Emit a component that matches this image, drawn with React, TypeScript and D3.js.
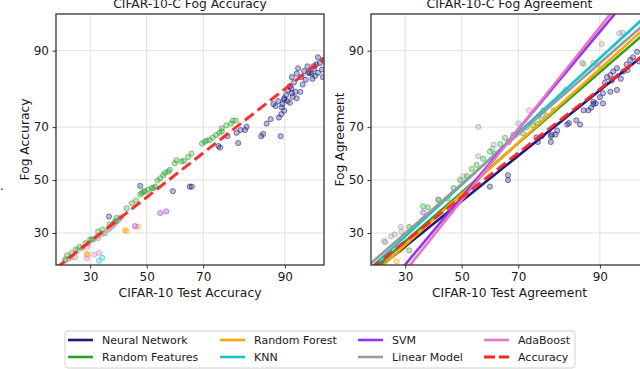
import React, { useEffect, useRef } from 'react';
import * as d3 from 'd3';

// tick values (percent) shared by both axes of both panels
const ticks = [30, 50, 70, 90];

// ---- left panel: CIFAR-10 test accuracy vs fog accuracy (percent) ----
const accNeuralNetwork = [
  [92.0, 86.6], [91.8, 85.4], [91.1, 84.6], [91.4, 83.3], [90.8, 82.4], [90.5, 81.3], [91.6, 80.9], [92.3, 80.9],
  [91.1, 80.5], [91.8, 79.1], [89.9, 79.1], [90.4, 78.3], [90.8, 77.8], [89.6, 77.4], [88.9, 78.3], [88.0, 77.4],
  [89.9, 75.4], [89.4, 74.3], [89.0, 73.2], [87.5, 72.7], [86.7, 71.2], [82.3, 70.1], [81.9, 69.0], [80.8, 69.0],
  [79.8, 68.0], [77.3, 66.8], [85.6, 66.8], [80.2, 64.3], [75.2, 62.6], [93.9, 87.0], [94.2, 87.4], [94.4, 85.6],
  [94.1, 84.9], [93.7, 85.4], [94.8, 86.3], [94.9, 88.3], [94.6, 87.7], [93.3, 85.6], [94.9, 84.6], [93.5, 85.6],
  [89.9, 78.7], [88.4, 76.8], [86.0, 67.6], [74.7, 63.2], [66.2, 47.4], [65.5, 47.4], [59.6, 45.6], [47.6, 47.7],
  [89.3, 66.8], [36.3, 35.9], [91.0, 81.8], [90.2, 80.0], [92.6, 82.8], [93.0, 84.0], [92.8, 86.0], [93.2, 87.0],
  [94.4, 88.8], [94.0, 86.5], [93.8, 84.2], [92.4, 84.6], [89.5, 76.4], [91.2, 79.5],
];
const accRandomFeatures = [
  [79.6, 72.2], [78.3, 71.2], [75.7, 69.6], [75.0, 68.0], [73.0, 66.3], [71.1, 65.2], [69.6, 64.1], [66.1, 60.3],
  [65.0, 59.0], [62.7, 57.3], [60.9, 57.8], [60.3, 56.6], [57.9, 53.3], [56.7, 52.8], [55.0, 50.7], [53.1, 47.4],
  [51.8, 46.8], [49.4, 45.5], [48.2, 44.9], [47.6, 44.3], [44.5, 40.9], [42.6, 39.0], [39.0, 35.4], [32.6, 30.5],
  [30.6, 27.8], [26.7, 25.4], [24.3, 23.4], [22.5, 21.6], [78.8, 72.2], [75.7, 68.5], [72.0, 65.4], [56.1, 51.9],
  [52.4, 46.8], [48.8, 45.5], [38.5, 34.1], [30.0, 27.8], [63.5, 57.5], [58.5, 54.0], [54.0, 49.8], [50.5, 46.2],
  [46.0, 42.0], [70.5, 64.8], [74.0, 67.2], [77.0, 70.6], [36.5, 33.0], [34.0, 31.2], [28.5, 26.6], [25.5, 24.6],
  [23.0, 22.8],
];
const accLinearModel = [
  [22.5, 21.2], [24.3, 22.2], [26.1, 24.3], [29.4, 26.5], [32.6, 28.2], [35.0, 29.9], [36.6, 31.6], [38.3, 33.4],
  [39.6, 34.6], [40.8, 35.9], [37.7, 32.7], [32.2, 28.8], [28.9, 25.4], [25.3, 22.2], [34.4, 29.9], [38.0, 33.6],
  [39.0, 34.0], [37.2, 32.4], [40.2, 35.2], [36.0, 31.2], [33.5, 29.4], [31.0, 27.8], [27.5, 25.0], [23.5, 21.8],
];
const accRandomForest = [[42.6, 30.7], [42.0, 31.0], [46.8, 32.2], [28.9, 23.2], [29.1, 23.0]];
const accSVM = [[45.7, 32.4], [55.0, 37.2], [57.2, 37.8]];
const accAdaBoost = [[28.9, 21.9], [31.3, 23.0], [32.9, 23.6]];
const accKNN = [[32.9, 21.2], [34.0, 22.1]];

// ---- right panel: CIFAR-10 test agreement vs fog agreement (percent) ----
const agrNeuralNetwork = [
  [94.8, 89.8], [94.4, 88.8], [94.1, 88.3], [93.7, 87.4], [92.5, 86.6], [92.0, 85.9], [91.6, 85.1], [91.1, 84.6],
  [91.8, 83.8], [90.8, 83.3], [92.5, 81.4], [91.6, 80.9], [90.5, 80.5], [90.0, 79.4], [88.9, 78.1], [89.3, 77.6],
  [88.5, 76.3], [90.5, 77.6], [85.6, 72.3], [86.4, 70.9], [83.6, 70.9], [80.8, 67.4], [79.6, 66.8], [87.1, 75.5],
  [93.0, 84.2], [93.3, 85.9], [84.0, 71.4], [81.2, 68.8], [79.8, 67.4], [79.6, 64.7], [76.0, 64.7], [75.6, 66.4],
  [77.1, 66.8], [66.6, 51.9], [66.6, 50.0], [60.3, 47.4], [88.0, 75.5], [88.9, 77.4], [95.0, 88.0], [93.8, 86.2],
];
const agrRandomFeatures = [
  [64.0, 63.9], [65.6, 66.2], [68.4, 67.3], [70.6, 69.0], [72.7, 70.0], [74.6, 70.6], [76.0, 71.1], [77.1, 72.6],
  [60.3, 61.1], [57.9, 58.3], [55.5, 56.0], [53.7, 54.4], [78.4, 73.8], [80.3, 75.5], [77.6, 75.5], [36.0, 39.7],
  [31.3, 32.1], [29.6, 25.6], [49.4, 50.0], [44.7, 42.7], [37.7, 39.3], [31.3, 24.3], [62.0, 60.2], [66.8, 64.6],
  [71.5, 67.8], [52.0, 51.6], [47.0, 46.8], [41.5, 42.2],
];
const agrLinearModel = [
  [92.8, 92.7], [93.2, 92.8], [90.3, 91.1], [86.8, 87.7], [88.9, 87.7], [83.2, 81.4], [87.1, 87.5], [89.6, 87.3],
  [56.1, 70.1], [70.0, 71.3], [61.7, 63.7], [61.2, 62.2], [56.1, 59.3], [50.6, 51.5], [41.3, 42.4], [28.6, 32.1],
  [26.7, 29.5], [25.6, 28.8], [23.9, 26.9], [28.8, 30.4], [23.6, 27.3],
];
const agrRandomForest = [[27.3, 21.0], [28.6, 24.3]];
const agrSVM = [[36.0, 37.4]];
const agrAdaBoost = [[73.4, 75.5]];

// fitted trend lines, two anchor points each [x1, y1, x2, y2] in percent (straight in probit space)
const fitAccuracy = [21.1, 20, 95, 88.6];
const fitNeuralNetwork = [23.0, 20, 95, 88.5];
const fitRandomFeatures = [21.9, 20, 95, 92.0];
const fitRandomForest = [23.3, 20, 95, 92.7];
const fitKNN = [20.8, 20, 95, 94.1];
const fitSVM = [29.9, 20, 92.2, 95];
const fitLinearModel = [20, 20.5, 95, 93.3];
const fitAdaBoost = [31.6, 20, 91.6, 95];

const C = {
  nn: '#1b1b7e',
  rf: '#2ca02c',
  forest: '#ffa500',
  svm: '#9b30f2',
  knn: '#17c4cc',
  linear: '#999999',
  ada: '#e377c2',
  acc: '#ff2424',
};

const legendItems = [
  { label: 'Neural Network', color: C.nn },
  { label: 'Random Features', color: C.rf },
  { label: 'Random Forest', color: C.forest },
  { label: 'KNN', color: C.knn },
  { label: 'SVM', color: C.svm },
  { label: 'Linear Model', color: C.linear },
  { label: 'AdaBoost', color: C.ada },
  { label: 'Accuracy', color: C.acc, dashed: true },
];

// inverse normal CDF (Acklam)
function probit(p: number) {
  const a = [-39.69683028665376, 220.9460984245205, -275.9285104469687, 138.357751867269, -30.66479806614716, 2.506628277459239];
  const b = [-54.47609879822406, 161.5858368580409, -155.6989798598866, 66.80131188771972, -13.28068155288572];
  const c = [-0.007784894002430293, -0.3223964580411365, -2.400758277161838, -2.549732539343734, 4.374664141464968, 2.938163982698783];
  const d = [0.007784695709041462, 0.3224671290700398, 2.445134137142996, 3.754408661907416];
  const pl = 0.02425;
  if (p < pl) {
    const q = Math.sqrt(-2 * Math.log(p));
    return (((((c[0] * q + c[1]) * q + c[2]) * q + c[3]) * q + c[4]) * q + c[5]) / ((((d[0] * q + d[1]) * q + d[2]) * q + d[3]) * q + 1);
  }
  if (p > 1 - pl) {
    const q = Math.sqrt(-2 * Math.log(1 - p));
    return -(((((c[0] * q + c[1]) * q + c[2]) * q + c[3]) * q + c[4]) * q + c[5]) / ((((d[0] * q + d[1]) * q + d[2]) * q + d[3]) * q + 1);
  }
  const q = p - 0.5, r = q * q;
  return (((((a[0] * r + a[1]) * r + a[2]) * r + a[3]) * r + a[4]) * r + a[5]) * q /
    (((((b[0] * r + b[1]) * r + b[2]) * r + b[3]) * r + b[4]) * r + 1);
}
const pr = (v: number) => probit(v / 100);

const FONT = 'DejaVu Sans, sans-serif';
const W = 640, H = 369;

const App = () => {
  const ref = useRef<SVGSVGElement>(null);

  useEffect(() => {
    const svg = d3.select(ref.current);
    svg.selectAll('*').remove();

    const yLin = d3.scaleLinear().domain([pr(20), pr(95)]).range([265, 14]);

    const panels = [
      {
        id: 'acc', left: 56, right: 324, xMax: 95,
        title: 'CIFAR-10-C Fog Accuracy', xLabel: 'CIFAR-10 Test Accuracy', yLabel: 'Fog Accuracy',
        points: [
          { d: accLinearModel, c: C.linear }, { d: accRandomFeatures, c: C.rf }, { d: accNeuralNetwork, c: C.nn },
          { d: accRandomForest, c: C.forest }, { d: accSVM, c: C.svm }, { d: accAdaBoost, c: C.ada }, { d: accKNN, c: C.knn },
        ],
        lines: [{ f: fitAccuracy, c: C.acc, dashed: true }],
      },
      {
        id: 'agr', left: 371, right: 648, xMax: 95.8,
        title: 'CIFAR-10-C Fog Agreement', xLabel: 'CIFAR-10 Test Agreement', yLabel: 'Fog Agreement',
        points: [
          { d: agrLinearModel, c: C.linear }, { d: agrRandomFeatures, c: C.rf }, { d: agrNeuralNetwork, c: C.nn },
          { d: agrRandomForest, c: C.forest }, { d: agrSVM, c: C.svm }, { d: agrAdaBoost, c: C.ada },
        ],
        lines: [
          { f: fitNeuralNetwork, c: C.nn }, { f: fitRandomFeatures, c: C.rf }, { f: fitRandomForest, c: C.forest },
          { f: fitKNN, c: C.knn }, { f: fitLinearModel, c: C.linear }, { f: fitSVM, c: C.svm },
          { f: fitAdaBoost, c: C.ada }, { f: fitAccuracy, c: C.acc, dashed: true },
        ],
      },
    ];

    panels.forEach(p => {
      const xLin = d3.scaleLinear().domain([pr(20), pr(p.xMax)]).range([p.left, p.right]);
      const [x0, x1] = xLin.range();
      const [y0, y1] = yLin.range();

      svg.append('clipPath').attr('id', `clip-${p.id}`)
        .append('rect').attr('x', x0).attr('y', y1).attr('width', x1 - x0).attr('height', y0 - y1);

      const g = svg.append('g');

      // grid
      g.append('g').selectAll('line').data(ticks).join('line')
        .attr('x1', t => xLin(pr(t))).attr('x2', t => xLin(pr(t)))
        .attr('y1', y1).attr('y2', y0)
        .attr('stroke', '#e0e0e0').attr('stroke-width', 1);
      g.append('g').selectAll('line').data(ticks).join('line')
        .attr('y1', t => yLin(pr(t))).attr('y2', t => yLin(pr(t)))
        .attr('x1', x0).attr('x2', x1)
        .attr('stroke', '#e0e0e0').attr('stroke-width', 1);

      const plot = g.append('g').attr('clip-path', `url(#clip-${p.id})`);

      p.points.forEach(s => {
        plot.append('g').selectAll('circle').data(s.d).join('circle')
          .attr('cx', d => xLin(pr(d[0])))
          .attr('cy', d => yLin(pr(d[1])))
          .attr('r', 2.6)
          .attr('fill', s.c).attr('fill-opacity', 0.3)
          .attr('stroke', s.c).attr('stroke-opacity', 0.6).attr('stroke-width', 0.9);
      });

      p.lines.forEach(l => {
        const [ax, ay, bx, by] = l.f.map(pr);
        const slope = (by - ay) / (bx - ax);
        const xs = xLin.domain();
        const pts = xs.map(x => [x, ay + slope * (x - ax)]);
        plot.append('path')
          .attr('d', d3.line()(pts.map(q => [xLin(q[0]), yLin(q[1])]) as [number, number][]))
          .attr('fill', 'none')
          .attr('stroke', l.c)
          .attr('stroke-width', l.dashed ? 3 : 2.6)
          .attr('stroke-dasharray', l.dashed ? '11,5' : null)
          .attr('stroke-opacity', l.dashed ? 0.95 : 1);
      });

      // frame
      g.append('rect').attr('x', x0).attr('y', y1).attr('width', x1 - x0).attr('height', y0 - y1)
        .attr('fill', 'none').attr('stroke', '#333').attr('stroke-width', 1.3);

      const xAxis = d3.axisBottom(xLin)
        .tickValues(ticks.map(pr)).tickFormat((_, i) => String(ticks[i]))
        .tickSize(3.5).tickPadding(3.5);
      const yAxis = d3.axisLeft(yLin)
        .tickValues(ticks.map(pr)).tickFormat((_, i) => String(ticks[i]))
        .tickSize(3.5).tickPadding(3.5);

      const ax = g.append('g').attr('transform', `translate(0,${y0})`).call(xAxis);
      const ay = g.append('g').attr('transform', `translate(${x0},0)`).call(yAxis);
      [ax, ay].forEach(a => {
        a.select('.domain').remove();
        a.selectAll('line').attr('stroke', '#333');
        a.selectAll('text').attr('font-family', FONT).attr('font-size', 12).attr('fill', '#1a1a1a');
      });

      const cx = (x0 + x1) / 2;
      g.append('text').attr('x', cx).attr('y', 8).attr('text-anchor', 'middle')
        .attr('font-family', FONT).attr('font-size', 12.3).attr('fill', '#1a1a1a').text(p.title);
      g.append('text').attr('x', cx).attr('y', 297).attr('text-anchor', 'middle')
        .attr('font-family', FONT).attr('font-size', 12.3).attr('fill', '#1a1a1a').text(p.xLabel);
      g.append('text').attr('transform', `translate(${x0 - 27},${(y0 + y1) / 2}) rotate(-90)`)
        .attr('text-anchor', 'middle')
        .attr('font-family', FONT).attr('font-size', 12.3).attr('fill', '#1a1a1a').text(p.yLabel);
    });

    // stray mark at the far left edge
    svg.append('text').attr('x', 0).attr('y', 190).attr('font-family', FONT).attr('font-size', 12)
      .attr('fill', '#1a1a1a').text('.');

    // legend
    const lg = svg.append('g');
    lg.append('rect').attr('x', 65).attr('y', 331).attr('width', 510).attr('height', 37).attr('rx', 3)
      .attr('fill', 'white').attr('stroke', '#d0d0d0').attr('stroke-width', 1);
    const colX = [68, 220, 358, 484];
    const rowY = [340, 357];
    legendItems.forEach((it, i) => {
      const col = Math.floor(i / 2), row = i % 2;
      const x = colX[col], y = rowY[row];
      lg.append('line').attr('x1', x).attr('x2', x + 25).attr('y1', y).attr('y2', y)
        .attr('stroke', it.color).attr('stroke-width', it.dashed ? 3 : 2.6)
        .attr('stroke-dasharray', it.dashed ? '11,4' : null);
      lg.append('text').attr('x', x + 34).attr('y', y + 4).attr('font-family', FONT).attr('font-size', 11)
        .attr('fill', '#1a1a1a').text(it.label);
    });
  }, []);

  return (
    <svg ref={ref} width={W} height={H} viewBox={`0 0 ${W} ${H}`}
      style={{ position: 'absolute', left: 0, top: 0, background: 'white' }} />
  );
};

export default App;
